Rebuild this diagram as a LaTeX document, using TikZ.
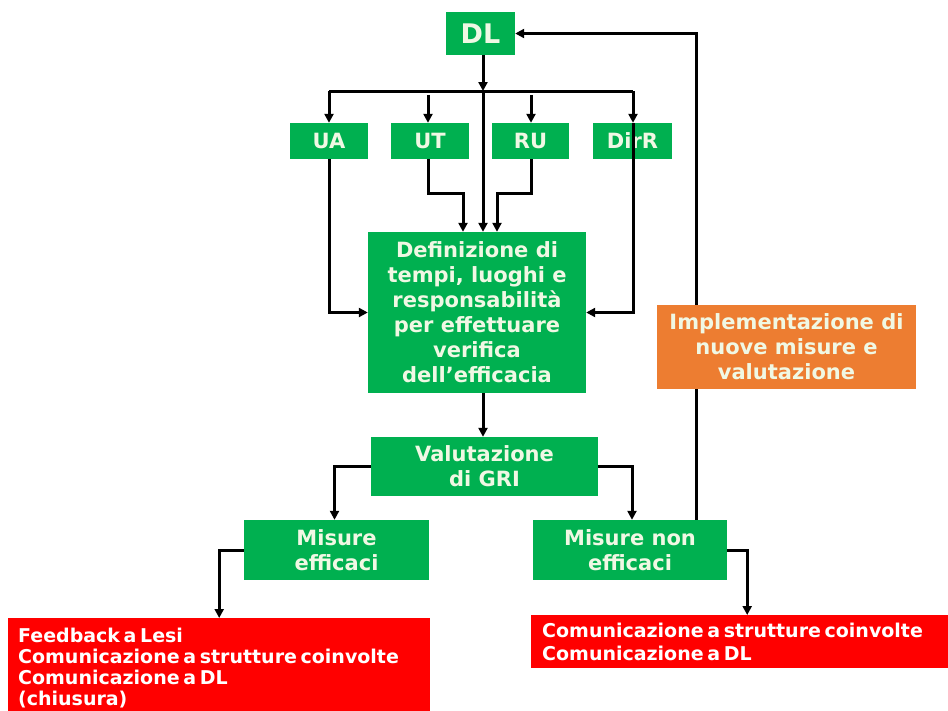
\documentclass[tikz,border=0pt]{standalone}
\usepackage{fontspec}
\setmainfont{DejaVu Sans}
\newfontfamily\redfont[WordSpace=0.55]{DejaVu Sans}
\usetikzlibrary{arrows.meta,calc}
\definecolor{gbox}{RGB}{0,176,80}
\definecolor{obox}{RGB}{237,125,49}
\definecolor{rbox}{RGB}{255,0,0}
\definecolor{gtext}{RGB}{240,248,228}
\begin{document}
\begin{tikzpicture}[x=1pt,y=-1pt,
  gbx/.style={rectangle,inner sep=0pt,align=center,fill=gbox,text=gtext,
    font=\fontsize{21}{25}\selectfont\bfseries},
  obx/.style={gbx,fill=obox},
  rbx/.style={rectangle,inner sep=0pt,fill=rbox},
  rtext/.style={inner sep=0pt,text=white,
    font=\redfont\fontsize{19}{21.3}\selectfont\bfseries},
  conn/.style={line width=3pt,black},
  arr/.style={conn,-{Triangle[length=9pt,width=9pt]}}]
\fill[white] (0,0) rectangle (948,710);
\useasboundingbox (0,0) rectangle (948,710);

% nodes
\node[gbx,minimum width=69pt,minimum height=43pt,font=\fontsize{27}{30}\selectfont\bfseries] (DL) at (480.5,33.5) {DL};
\node[gbx,minimum width=78pt,minimum height=36pt] (UA) at (329,141) {UA};
\node[gbx,minimum width=78pt,minimum height=36pt] (UT) at (430,141) {UT};
\node[gbx,minimum width=77pt,minimum height=36pt] (RU) at (530.5,141) {RU};
\node[gbx,minimum width=79pt,minimum height=36pt] (DirR) at (632.5,141) {DirR};
\node[gbx,minimum width=218pt,minimum height=161pt] (Def) at (477,312.5)
  {Definizione di\\tempi, luoghi e\\responsabilità\\per effettuare\\verifica\\dell’efficacia};
\node[gbx,minimum width=227pt,minimum height=59pt] (Val) at (484.5,466.5) {Valutazione\\di GRI};
\node[gbx,minimum width=185pt,minimum height=60pt] (ME) at (336.5,550) {Misure\\efficaci};
\node[gbx,minimum width=194pt,minimum height=60pt] (MN) at (630,550) {Misure non\\efficaci};
\node[rbx,minimum width=422pt,minimum height=96pt,anchor=north west] (RL) at (8,618) {};
\node[rtext,anchor=base west] (RLt) at (18,642)
  {\vtop{\hbox{Feedback a Lesi}\hbox{Comunicazione a strutture coinvolte}\hbox{Comunicazione a DL}\hbox{(chiusura)}}};
\node[rbx,minimum width=419pt,minimum height=53pt,anchor=north west] (RR) at (531,615) {};
\node[rtext,anchor=base west] (RRt) at (542,637.5)
  {\vtop{\baselineskip=22.7pt\hbox{Comunicazione a strutture coinvolte}\hbox{Comunicazione a DL}}};

% coordinates
\coordinate (j) at (483,91);
\coordinate (barL) at (329,91);
\coordinate (barR) at (633,91);
\coordinate (fb) at (696,33.5);

% connectors
\draw[arr] (DL.south -| j) -- (j);
\draw[conn] (barL) -- (barR);
\draw[arr] (barL) -- (UA.north);
\draw[arr] (barR) -- (barR |- DirR.north);
\draw[arr] (j) -- (j |- Def.north);
\draw[arr] ($(UT.north)+(-2,-28)$) -- ($(UT.north)+(-2,0)$);
\draw[arr] ($(RU.north)+(0.5,-28)$) -- ($(RU.north)+(0.5,0)$);
\draw[arr] ($(UT.south)+(-2,0)$) -- ++(0,34) -| ($(Def.north)+(-14,0)$);
\draw[arr] ($(RU.south)+(0.5,0)$) -- ++(0,34) -| ($(Def.north)+(20,0)$);
\draw[arr] (UA.south) |- (Def.west);
\draw[arr] (barR |- DirR.north) |- (Def.east);
\draw[arr] (Def.south -| j) -- (Val.north -| j);
\draw[arr] (Val.west) -| ($(ME.north)+(-2,0)$);
\draw[arr] (Val.east) -| ($(MN.north)+(2,0)$);
\draw[arr] (ME.west) -| (RL.north);
\draw[arr] (MN.east) -| ($(RR.north)+(6.5,0)$);
\draw[arr] (MN.north -| fb) -- (fb) -- (DL.east);

\node[obx,minimum width=259pt,minimum height=84pt] (Impl) at (786.5,347)
  {Implementazione di\\nuove misure e\\valutazione};
\end{tikzpicture}
\end{document}
